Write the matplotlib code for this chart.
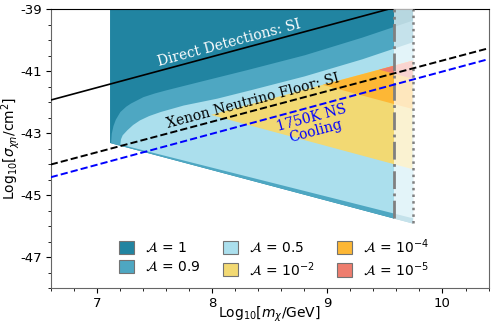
import numpy as np
import matplotlib
matplotlib.use('Agg')
import matplotlib.pyplot as plt
from matplotlib.patches import Patch

# boundaries (log10 mass in GeV, log10 cross section in cm^2)
mass_top_09 = [7.12, 7.125, 7.14, 7.16, 7.20, 7.25, 7.29, 7.40, 7.50, 7.60, 7.90, 8.30, 8.80, 9.30, 9.74]
sigma_top_09 = [-43.25, -43.00, -42.75, -42.55, -42.30, -42.13, -42.03, -41.82, -41.70, -41.60, -41.32, -40.95, -40.47, -39.90, -39.35]

mass_top_05 = [7.20, 7.205, 7.22, 7.26, 7.31, 7.37, 7.45, 7.55, 7.75, 8.04, 8.33, 8.80, 9.30, 9.74]
sigma_top_05 = [-43.32, -43.18, -43.05, -42.89, -42.72, -42.57, -42.43, -42.30, -42.09, -41.87, -41.60, -41.15, -40.60, -40.05]

# lower straight edges: [start, end] points
mass_low_1 = [7.11, 9.74]
sigma_low_1 = [-43.30, -45.90]
mass_low_05 = [7.20, 9.74]
sigma_low_05 = [-43.35, -45.73]

# small-A wedges: tip, and upper/lower value at the cut mass 9.74
tip_mass = [7.99, 8.96, 9.45]
tip_sigma = [-42.41, -41.44, -40.95]
wedge_top_end = [-40.66, -40.66, -40.66]
wedge_low_end = [-44.16, -42.22, -41.24]

# lines
dd_mass = [6.6, 9.53]
dd_sigma = [-41.93, -39.0]
xe_mass = [6.6, 10.4]
xe_sigma = [-44.01, -40.26]
ns_mass = [6.6, 10.4]
ns_sigma = [-44.42, -40.61]

m_cut = 9.58
m_end = 9.74

labels = [r'$\mathcal{A}$ = 1', r'$\mathcal{A}$ = 0.9', r'$\mathcal{A}$ = 0.5',
          r'$\mathcal{A}$ = $10^{-2}$', r'$\mathcal{A}$ = $10^{-4}$', r'$\mathcal{A}$ = $10^{-5}$']
colors = ['#2184a1', '#4ea7c2', '#abdfed', '#f2d973', '#fdb735', '#ee7d6e']

fig = plt.figure(figsize=(4.93, 3.29), dpi=100)
ax = fig.add_axes([0.103, 0.124, 0.888, 0.848])

# A = 1 region : everything above the lower edge
xs = np.linspace(mass_low_1[0], m_end, 50)
low = np.interp(xs, mass_low_1, sigma_low_1)
ax.fill_between(xs, low, -39, color=colors[0], lw=0, zorder=1)

# A = 0.9
xs = np.array(mass_top_09)
low = np.interp(xs, mass_low_1, sigma_low_1)
ax.fill_between(xs, low, sigma_top_09, color=colors[1], lw=0, zorder=2)

# A = 0.5
xs = np.union1d(np.linspace(mass_top_05[0], m_end, 100), mass_top_05)
top = np.interp(xs, mass_top_05, sigma_top_05)
low = np.interp(xs, mass_low_05, sigma_low_05)
ax.fill_between(xs, low, top, color=colors[2], lw=0, zorder=3)

# wedges
for i in range(3):
    ax.fill([tip_mass[i], m_end, m_end], [tip_sigma[i], wedge_top_end[i], wedge_low_end[i]],
            color=colors[3 + i], lw=0, zorder=4 + i)

# faded strip beyond the cut
ax.axvspan(m_cut, m_end, color='white', alpha=0.68, lw=0, zorder=8)
low_cut = np.interp(m_cut, mass_low_1, sigma_low_1)
low_end = np.interp(m_end, mass_low_1, sigma_low_1)
ax.plot([m_cut, m_cut], [low_cut, -39], color='gray', ls='-.', lw=2, zorder=9)
ax.plot([m_end, m_end], [low_end, -39], color='gray', ls=':', lw=1.8, zorder=9)

ax.plot(dd_mass, dd_sigma, color='black', lw=1.2, zorder=10)
ax.plot(xe_mass, xe_sigma, color='black', ls='--', lw=1.4, zorder=10)
ax.plot(ns_mass, ns_sigma, color='blue', ls='--', lw=1.4, zorder=10)

ax.text(8.15, -40.09, 'Direct Detections: SI', color='white', family='DejaVu Serif',
        fontsize=10, rotation=15, ha='center', va='center', rotation_mode='anchor', zorder=11)
ax.text(8.355, -41.97, 'Xenon Neutrino Floor: SI', color='black', family='DejaVu Serif',
        fontsize=10, rotation=15, ha='center', va='center', rotation_mode='anchor', zorder=11)
ax.text(8.88, -42.73, '1750K NS\nCooling', color='blue', family='DejaVu Serif',
        fontsize=10, rotation=15, ha='center', va='center', rotation_mode='anchor',
        linespacing=1.0, zorder=11)

ax.set_xlim(6.6, 10.4)
ax.set_ylim(-48, -39)
ax.set_xticks([7, 8, 9, 10])
ax.set_xticks(np.arange(6.6, 10.41, 0.2), minor=True)
ax.set_yticks([-39, -41, -43, -45, -47])
ax.set_yticklabels(['-39', '-41', '-43', '-45', '-47'])
ax.set_yticks(np.arange(-48, -38.9, 0.5), minor=True)
ax.tick_params(labelsize=9.5, pad=2.5)
ax.set_xlabel(r'Log$_{10}$[$m_\chi$/GeV]', fontsize=10)
ax.set_ylabel(r'Log$_{10}$[$\sigma_{\chi n}$/cm$^2$]', fontsize=10)
ax.xaxis.set_label_coords(0.5, -0.06)
ax.yaxis.set_label_coords(-0.065, 0.5)
for s in ['left', 'bottom', 'right']:
    ax.spines[s].set_color('0.4')

handles = [Patch(facecolor=c, edgecolor='0.45', lw=0.8) for c in colors]
leg = ax.legend(handles, labels, ncol=3, frameon=False, loc='center', bbox_to_anchor=(0.51, 0.11),
                fontsize=10, handlelength=1.1, handleheight=1.1, columnspacing=1.6, labelspacing=0.35)
leg.set_zorder(20)

fig.savefig('out.png', dpi=100)
